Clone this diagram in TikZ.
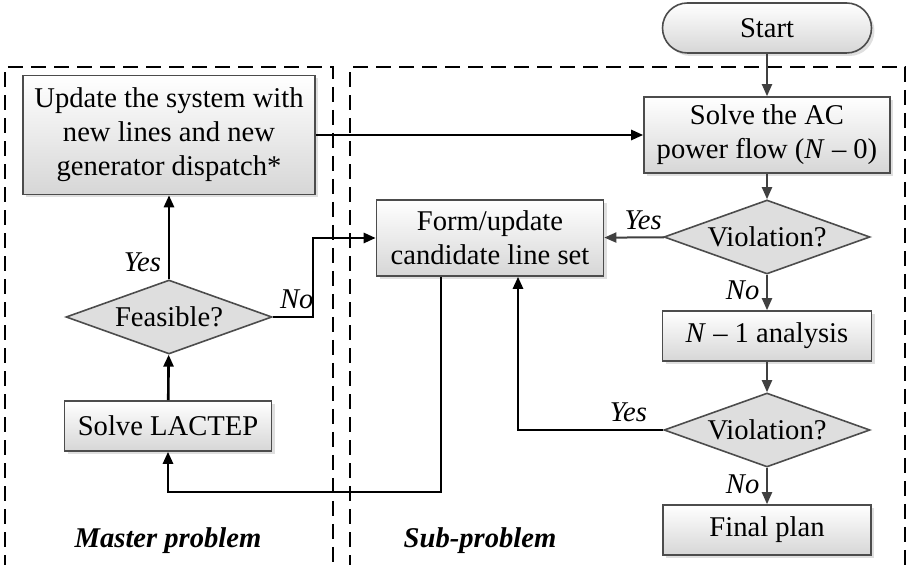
\documentclass[tikz,border=0pt]{standalone}
\usepackage{fontspec}
\setmainfont{Liberation Serif}
\usetikzlibrary{shapes, shadows, arrows.meta}

\begin{document}
\begin{tikzpicture} [
  x=0.5pt,
  y=-0.5pt,
  font=\fontsize{14.3}{17}\selectfont,
  proc/.style={draw=black!70, line width=0.8pt, top color=white, bottom color=black!16,
    drop shadow={opacity=0.25, shadow xshift=1.5pt, shadow yshift=-1.5pt},
    align=center, inner sep=2pt, minimum height=25pt},
  term/.style={proc, rounded corners=12.5pt, minimum width=104.5pt},
  decision/.style={diamond, draw=black!70, line width=0.8pt, fill=black!13, aspect=2.75,
    inner sep=0pt, minimum width=103pt, minimum height=37pt},
  flow/.style={draw=black!75, line width=1pt, -{Triangle[length=6pt, width=5pt]}},
  link/.style={draw=black, line width=1.3pt, -{Triangle[length=6pt, width=5pt]}},
  answer/.style={font=\fontsize{14.3}{17}\selectfont\itshape},
  region/.style={draw=black, line width=1pt, dash pattern=on 7.5pt off 4pt}
  ]
  \useasboundingbox (0,0) rectangle (909,565);

  % dashed regions
  \draw[region] (5,570) -- (5,67) -- (333,67) -- (333,570);
  \draw[region] (350,570) -- (350,67) -- (905,67) -- (905,570);
  \node(master)[at={(168,541)}, font=\fontsize{14.3}{17}\selectfont\bfseries\itshape]{Master problem};
  \node(sub)[at={(480,541)}, font=\fontsize{14.3}{17}\selectfont\bfseries\itshape]{Sub-problem};

  % sub-problem
  \node(start)[term, at={(767,28)}]{Start};
  \node(acflow)[proc, at={(767,135)}, minimum width=123pt, minimum height=38pt]{Solve the AC\\power flow (\textit{N} -- 0)};
  \node(viol1)[decision, at={(767,237)}]{Violation?};
  \node(n1)[proc, at={(767,336)}, minimum width=104.5pt]{\textit{N} -- 1 analysis};
  \node(viol2)[decision, at={(767,430)}]{Violation?};
  \node(final)[proc, at={(767,530)}, minimum width=104pt]{Final plan};
  \node(cand)[proc, at={(490,238)}, minimum width=113.5pt, minimum height=38pt]{Form/update\\candidate line set};

  % master problem
  \node(update)[proc, at={(169,135)}, minimum width=146pt, minimum height=59.5pt]{Update the system with\\new lines and new\\generator dispatch*};
  \node(feas)[decision, at={(169,317)}]{Feasible?};
  \node(lactep)[proc, at={(168,426)}, minimum width=103.5pt]{Solve LACTEP};

  \coordinate(turn) at (441,492);

  \draw[flow] (start) -- (acflow);
  \draw[flow] (acflow) -- (viol1);
  \draw[flow] (viol1) -- node[answer, above, pos=0.35]{Yes} (cand);
  \draw[flow] (viol1) -- node[answer, left, pos=0.45]{No} (n1);
  \draw[flow] (n1) -- (viol2);
  \draw[flow] (viol2) -- node[answer, left, pos=0.45]{No} (final);

  \draw[link] (update) -- (acflow);
  \draw[link] (viol2.west) -| node[answer, above, pos=0.12]{Yes} ([xshift=14pt]cand.south);
  \draw[link] ([xshift=-24.5pt]cand.south) |- (turn) -| (lactep);
  \draw[link] (lactep) -- (feas);
  \draw[link] (feas) -- node[answer, left, pos=0.2]{Yes} (update);
  \draw[link] (feas.east) -- node[answer, above, pos=0.6]{No} ++(20pt,0) |- (cand.west);
\end{tikzpicture}
\end{document}
